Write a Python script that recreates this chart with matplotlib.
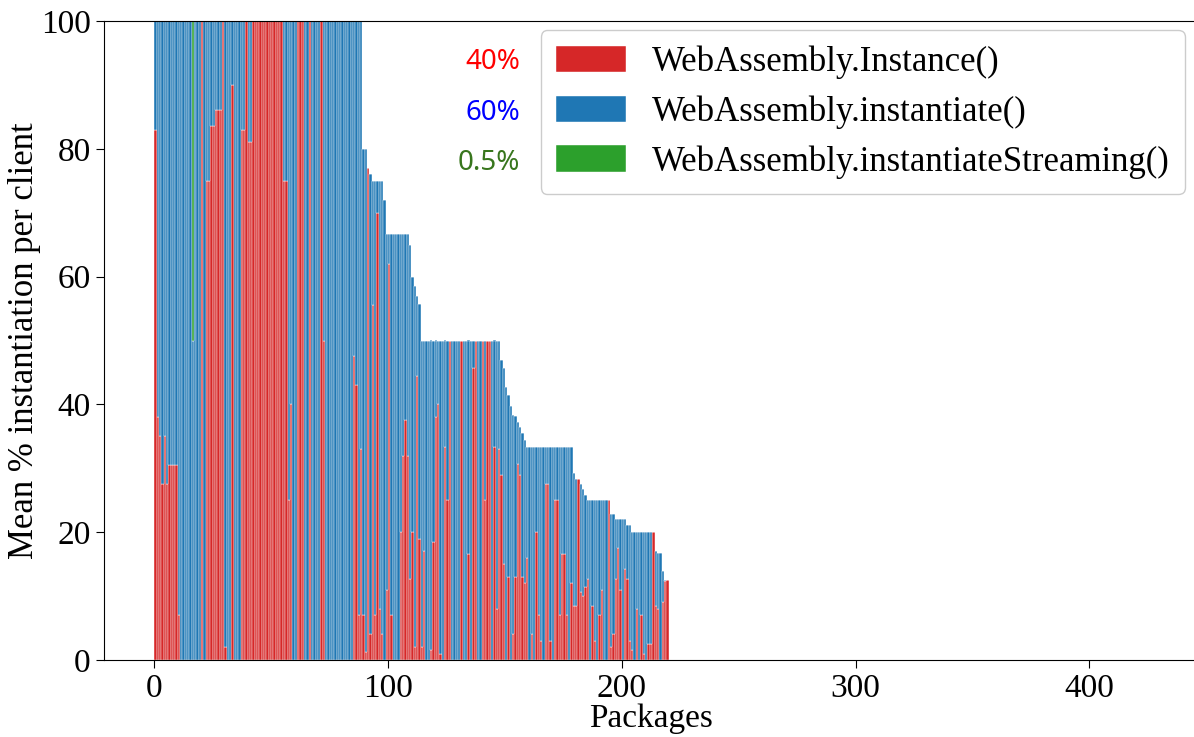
import matplotlib.pyplot as plt
import numpy as np

plt.rcParams['font.family'] = 'serif'
plt.rcParams['font.serif'] = ['Liberation Serif', 'DejaVu Serif']

# mean % of instantiation per package (sorted as in the paper figure)
total_pct = ([100] * 89 +
             [80, 80, 77, 76, 75, 75, 75, 75, 75, 72] +
             [66.7] * 10 + [65, 60, 58.5, 57, 55.7] +
             [50] * 34 +
             [47, 45.7, 42.7, 41.4, 39.8, 38.4, 38.2, 37.3, 36.5, 35.5, 34.5] +
             [33.3] * 20 +
             [29.2, 28.4, 28.4, 27.6, 26.8, 25.8] +
             [25] * 10 + [22.8, 22.8] + [22.1] * 5 + [21.2, 21.2] +
             [20] * 10 + [17, 16.7, 16.7, 14, 12.5, 12.5])

instance_pct = [
    83, 38, 35, 27.5, 35, 27.5, 30.5, 30.5, 30.5, 30.5,
    7, 0, 0, 0, 0, 0, 0, 0, 0, 0,
    100, 0, 75, 75, 83.5, 83.5, 86, 86, 86, 100,
    2, 0, 0, 90, 0, 0, 0, 83, 83, 100,
    81, 81, 100, 100, 100, 100, 100, 100, 100, 100,
    100, 100, 100, 100, 100, 75, 75, 25, 40, 0,
    0, 100, 100, 100, 0, 0, 100, 0, 0, 0,
    0, 100, 50, 0, 0, 0, 0, 0, 0, 0,
    0, 0, 0, 0, 0, 47.5, 43, 7, 33, 7,
    1.3, 77, 4, 55.6, 7, 70, 8, 4, 0, 11,
    62, 7, 0, 0, 0, 20, 32, 37.5, 32, 12.6,
    20, 2, 44.4, 19, 2, 17, 0, 0, 1.5, 18.4,
    38, 40, 1, 0, 33.3, 25, 50, 0, 0, 0,
    0, 50, 0, 0, 16.6, 0, 45.7, 50, 0, 0,
    50, 25, 50, 50, 0, 33.3, 8, 33, 29, 15,
    0, 13, 0, 4, 13, 30.6, 29, 13, 12, 16,
    0, 4, 0, 20, 7, 3, 0, 27.6, 27.6, 3,
    0, 25, 25, 7, 16.6, 16.6, 7, 0, 12, 8.5,
    8.5, 28.4, 10.6, 10, 11.5, 12.6, 0, 8.4, 3, 0,
    7, 11, 0, 0, 25, 2, 4, 12.6, 17.6, 11,
    0, 14.3, 12.6, 3, 1.5, 0, 8, 0, 7, 1,
    0, 2.5, 2.5, 20, 8.5, 8, 0, 9, 12.3, 12.5,
]

streaming_pct = [0] * 220
streaming_pct[16] = 50

labels = ["WebAssembly.Instance()", "WebAssembly.instantiate()",
          "WebAssembly.instantiateStreaming()"]
shares = ["40%", "60%", "0.5%"]
share_colors = ["#ff0000", "#0000ff", "#38761d"]

red = np.array(instance_pct, dtype=float)
green = np.array(streaming_pct, dtype=float)
blue = np.array(total_pct, dtype=float) - red - green
x = np.arange(len(red))

fig = plt.figure(figsize=(11.94, 7.37), dpi=100)
ax = fig.add_axes([104 / 1194, 77 / 737, 1094 / 1194, 639 / 737])

kw = dict(width=1, align='edge', edgecolor='white', linewidth=0.3)
ax.bar(x, red, color='#d62728', label=labels[0], **kw)
ax.bar(x, blue, bottom=red, color='#1f77b4', label=labels[1], **kw)
ax.bar(x, green, bottom=red + blue, color='#2ca02c', label=labels[2], **kw)

ax.set_xlim(-21.5, 446.5)
ax.set_ylim(0, 100)
ax.set_xticks([0, 100, 200, 300, 400])
ax.set_yticks([0, 20, 40, 60, 80, 100])
ax.tick_params(labelsize=24, length=6)
ax.set_xlabel("Packages", fontsize=24, labelpad=0)
ax.set_ylabel("Mean % instantiation per client", fontsize=25, labelpad=0)

leg = ax.legend(loc='upper right', bbox_to_anchor=(1185 / 1194, 1 - 30 / 737),
                bbox_transform=fig.transFigure, borderaxespad=0,
                fontsize=25, handlelength=2.0, handleheight=0.8,
                handletextpad=0.75, labelspacing=0.47, borderpad=0.45,
                framealpha=1)

for i, (s, c) in enumerate(zip(shares, share_colors)):
    fig.text(520 / 1194, 1 - (62 + 50.5 * i) / 737, s, color=c, fontsize=20,
             ha='right', va='center', family='Noto Sans')

fig.savefig("out.png", dpi=100)
